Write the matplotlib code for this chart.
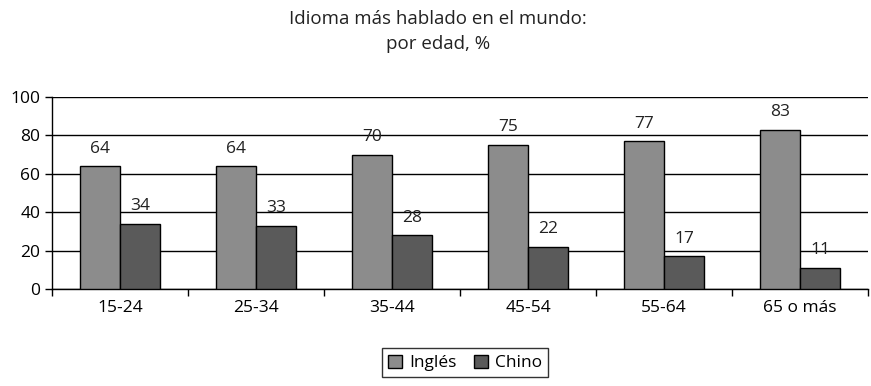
import numpy as np
import matplotlib.pyplot as plt

plt.rcParams['font.family'] = ['Open Sans', 'DejaVu Sans']

# data
categorias = ['15-24', '25-34', '35-44', '45-54', '55-64', '65 o más']
ingles = [64, 64, 70, 75, 77, 83]
chino = [34, 33, 28, 22, 17, 11]

fig = plt.figure(figsize=(8.71, 3.86), dpi=100)
ax = fig.add_axes([0.0597, 0.2513, 0.937, 0.4974])

x = np.arange(len(categorias))
w = 0.295
b1 = ax.bar(x - w/2, ingles, w, color='#8c8c8c', edgecolor='black', linewidth=1, label='Inglés', zorder=3)
b2 = ax.bar(x + w/2, chino, w, color='#5a5a5a', edgecolor='black', linewidth=1, label='Chino', zorder=3)

for rects in (b1, b2):
    for r in rects:
        ax.text(r.get_x() + r.get_width()/2, r.get_height() + 5, str(int(r.get_height())),
                ha='center', va='bottom', fontsize=12.5, color='#222222')

ax.set_ylim(0, 100)
ax.set_xlim(-0.5, len(categorias) - 0.5)
ax.set_yticks(range(0, 101, 20))
ax.yaxis.grid(True, color='black', linewidth=1, zorder=0)
ax.set_axisbelow(True)

ax.set_xticks(x)
ax.set_xticklabels(categorias, fontsize=12.5)
ax.tick_params(axis='x', length=0, pad=8)
ax.set_xticks(np.arange(len(categorias) + 1) - 0.5, minor=True)
ax.tick_params(axis='x', which='minor', length=5, width=1)
ax.tick_params(axis='y', labelsize=12.5, length=5, width=1)

for s in ['top', 'right']:
    ax.spines[s].set_visible(False)
ax.spines['left'].set_linewidth(1)
ax.spines['bottom'].set_linewidth(1)

fig.text(0.503, 0.975, 'Idioma más hablado en el mundo:\npor edad, %', ha='center', va='top',
         fontsize=13.5, linespacing=1.5, color='#222222')

leg = fig.legend(loc='lower center', bbox_to_anchor=(0.534, 0.0), ncol=2, fontsize=12.5,
                 frameon=True, fancybox=False, edgecolor='black', handlelength=0.8,
                 handleheight=0.8, handletextpad=0.4, columnspacing=1.0, borderpad=0.35)
leg.get_frame().set_linewidth(1)

fig.savefig('out.png', dpi=100)
